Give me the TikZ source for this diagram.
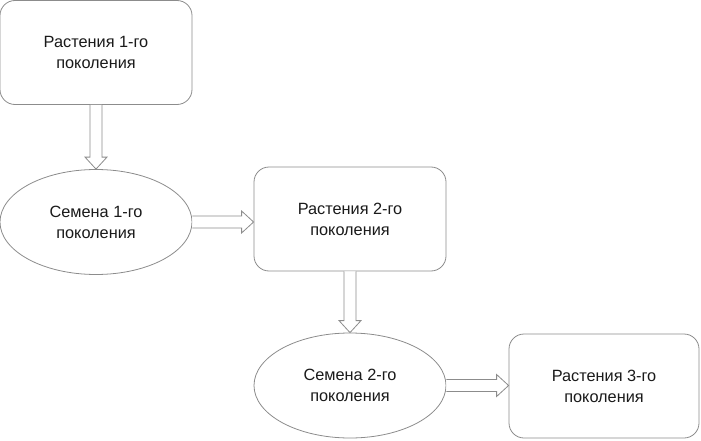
\documentclass[tikz,border=0pt]{standalone}
\usepackage{fontspec}
\setmainfont{Liberation Sans}
\usetikzlibrary{shapes.geometric,calc}
\definecolor{lin}{HTML}{8C8C8C}
\definecolor{txt}{HTML}{1A1A1A}
\tikzset{
  box/.style={draw=lin, line width=0.8pt, fill=white, rounded corners=15pt, minimum width=192pt, minimum height=104pt, inner sep=0pt, align=center, text=txt, font=\fontsize{16.3}{21}\selectfont},
  oval/.style={draw=lin, line width=0.8pt, fill=white, ellipse, minimum width=192pt, minimum height=105pt, inner sep=0pt, align=center, text=txt, font=\fontsize{16.3}{21}\selectfont},
  fatarrow/.style={draw=lin, line width=0.8pt, fill=white, line join=miter}
}
\newcommand\downarrowfat[2]{%
  \draw[fatarrow] let \p1=(#1.south), \p2=(#2.north) in
    (\x1-6pt,\y1) -- (\x1-6pt,\y2+12pt) -- (\x1-11pt,\y2+12pt) -- (\x1,\y2) --
    (\x1+11pt,\y2+12pt) -- (\x1+6pt,\y2+12pt) -- (\x1+6pt,\y1);}
\newcommand\rightarrowfat[2]{%
  \draw[fatarrow] let \p1=(#1.east), \p2=(#2.west) in
    (\x1,\y1+6pt) -- (\x2-12pt,\y1+6pt) -- (\x2-12pt,\y1+11pt) -- (\x2,\y1) --
    (\x2-12pt,\y1-11pt) -- (\x2-12pt,\y1-6pt) -- (\x1,\y1-6pt);}
\begin{document}
\begin{tikzpicture}[x=1pt,y=1pt]
\useasboundingbox (0,0) rectangle (701,440);
\node[box] (b1) at (96,387.5) {Растения 1-го\\поколения};
\node[oval] (e1) at (96,218) {Семена 1-го\\поколения};
\node[box] (b2) at (350,221) {Растения 2-го\\поколения};
\node[oval] (e2) at (350,54.5) {Семена 2-го\\поколения};
\node[box, minimum width=190pt] (b3) at (604,54) {Растения 3-го\\поколения};
\downarrowfat{b1}{e1}
\rightarrowfat{e1}{b2}
\downarrowfat{b2}{e2}
\rightarrowfat{e2}{b3}
\end{tikzpicture}
\end{document}
